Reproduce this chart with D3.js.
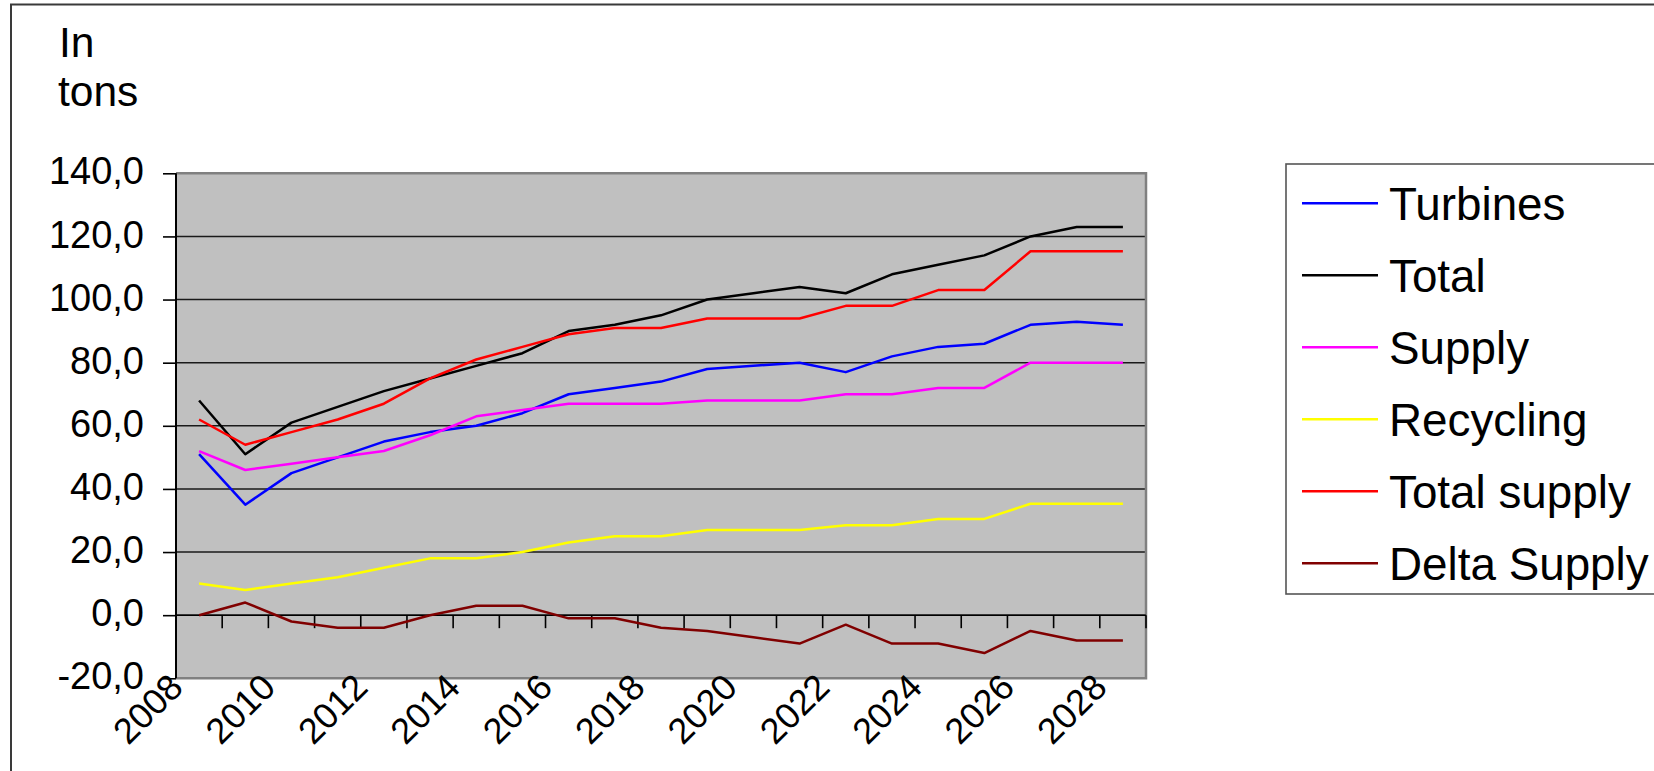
<!DOCTYPE html>
<html>
<head>
<meta charset="utf-8">
<script src="https://cdn.jsdelivr.net/npm/d3@7"></script>
<style>
  html, body { margin: 0; padding: 0; background: #ffffff; overflow: hidden; }
  text { font-family: "Liberation Sans", Arial, sans-serif; fill: #000; }
</style>
</head>
<body>
<svg id="chart" width="1654" height="771"></svg>
<script>
// Categories (one per year) and the years that carry an axis label
const years = ["2008","2009","2010","2011","2012","2013","2014","2015","2016","2017","2018",
               "2019","2020","2021","2022","2023","2024","2025","2026","2027","2028"];
const labelYears = ["2008","2010","2012","2014","2016","2018","2020","2022","2024","2026","2028"];
const yTicks = [-20, 0, 20, 40, 60, 80, 100, 120, 140];

// Series values, in tons
const turbines     = [51, 35, 45, 50, 55, 58, 60, 64, 70, 72, 74, 78, 79, 80, 77, 82, 85, 86, 92, 93, 92];
const total        = [68, 51, 61, 66, 71, 75, 79, 83, 90, 92, 95, 100, 102, 104, 102, 108, 111, 114, 120, 123, 123];
const supply       = [52, 46, 48, 50, 52, 57, 63, 65, 67, 67, 67, 68, 68, 68, 70, 70, 72, 72, 80, 80, 80];
const recycling    = [10, 8, 10, 12, 15, 18, 18, 20, 23, 25, 25, 27, 27, 27, 28.5, 28.5, 30.5, 30.5, 35.3, 35.3, 35.3];
const totalSupply  = [62, 54, 58, 62, 67, 75, 81, 85, 89, 91, 91, 94, 94, 94, 98, 98, 103, 103, 115.3, 115.3, 115.3];
const deltaSupply  = [0, 4, -2, -4, -4, 0, 3, 3, -1, -1, -4, -5, -7, -9, -3, -9, -9, -12, -5, -8, -8];

const seriesNames  = ["Turbines", "Total", "Supply", "Recycling", "Total supply", "Delta Supply"];
const seriesValues = [turbines, total, supply, recycling, totalSupply, deltaSupply];
const seriesColors = ["#0000ff", "#000000", "#ff00ff", "#ffff00", "#ff0000", "#800000"];

const svg = d3.select("#chart");

// Outer chart frame
svg.append("rect")
  .attr("x", 11).attr("y", 4.5).attr("width", 1700).attr("height", 800)
  .attr("fill", "#ffffff").attr("stroke", "#3a3a3a").attr("stroke-width", 2);

// Unit caption
svg.append("text").attr("x", 59).attr("y", 56.5).attr("font-size", 42.5).text("In");
svg.append("text").attr("x", 58).attr("y", 106).attr("font-size", 42.5).text("tons");

const plot = { left: 176, top: 173.3, right: 1146, bottom: 678.3 };

const x = d3.scaleBand().domain(years).range([plot.left, plot.right]).paddingInner(0).paddingOuter(0);
const y = d3.scaleLinear().domain([-20, 140]).range([plot.bottom, plot.top]);

// Plot background
svg.append("rect")
  .attr("x", plot.left).attr("y", plot.top)
  .attr("width", plot.right - plot.left).attr("height", plot.bottom - plot.top)
  .attr("fill", "#c0c0c0");

// Horizontal gridlines
svg.append("g").selectAll("line")
  .data(yTicks.filter(v => v > -20 && v < 140))
  .join("line")
  .attr("x1", plot.left).attr("x2", plot.right)
  .attr("y1", d => y(d)).attr("y2", d => y(d))
  .attr("stroke", "#1a1a1a").attr("stroke-width", 1.6);

// Plot border (top, right, bottom)
svg.append("path")
  .attr("d", `M${plot.left},${plot.top}H${plot.right}V${plot.bottom}H${plot.left}`)
  .attr("fill", "none").attr("stroke", "#808080").attr("stroke-width", 2.5);

// Value axis
const yAxis = d3.axisLeft(y)
  .tickValues(yTicks)
  .tickSize(13)
  .tickPadding(19)
  .tickFormat(d => d.toFixed(1).replace(".", ","));
const gy = svg.append("g").attr("transform", `translate(${plot.left},0)`).call(yAxis);
gy.select(".domain").remove();
gy.selectAll(".tick line").attr("stroke", "#000").attr("stroke-width", 1.6);
gy.selectAll(".tick text")
  .attr("font-size", 38)
  .attr("font-family", "Liberation Sans, Arial, sans-serif")
  .attr("fill", "#000")
  .attr("dy", "0.28em");
svg.append("line")
  .attr("x1", plot.left).attr("x2", plot.left)
  .attr("y1", plot.top).attr("y2", plot.bottom)
  .attr("stroke", "#000").attr("stroke-width", 2);

// Category axis on the zero line, ticks between categories
const y0 = y(0);
svg.append("line")
  .attr("x1", plot.left).attr("x2", plot.right)
  .attr("y1", y0).attr("y2", y0)
  .attr("stroke", "#000").attr("stroke-width", 1.6);
const boundaries = years.map(d => x(d)).concat([x(years[years.length - 1]) + x.bandwidth()]);
svg.append("g").selectAll("line")
  .data(boundaries)
  .join("line")
  .attr("x1", d => d).attr("x2", d => d)
  .attr("y1", y0).attr("y2", y0 + 13)
  .attr("stroke", "#000").attr("stroke-width", 1.6);

// Rotated year labels
svg.append("g").selectAll("text")
  .data(labelYears)
  .join("text")
  .attr("font-size", 36)
  .attr("text-anchor", "end")
  .attr("transform", d => `translate(${x(d) + 9},${plot.bottom + 11}) rotate(-45)`)
  .text(d => d);

// Series lines
const line = d3.line()
  .x((d, i) => x(years[i]) + x.bandwidth() / 2)
  .y(d => y(d));

svg.append("g").selectAll("path")
  .data(seriesValues)
  .join("path")
  .attr("d", d => line(d))
  .attr("fill", "none")
  .attr("stroke", (d, i) => seriesColors[i])
  .attr("stroke-width", 2.5)
  .attr("stroke-linejoin", "round");

// Legend
const legend = { x: 1286, y: 164, w: 500, h: 430, first: 203.3, step: 72 };
svg.append("rect")
  .attr("x", legend.x).attr("y", legend.y).attr("width", legend.w).attr("height", legend.h)
  .attr("fill", "#ffffff").attr("stroke", "#555555").attr("stroke-width", 1.6);
const items = svg.append("g").selectAll("g")
  .data(seriesNames)
  .join("g")
  .attr("transform", (d, i) => `translate(0,${legend.first + i * legend.step})`);
items.append("line")
  .attr("x1", 1302).attr("x2", 1378)
  .attr("y1", 0).attr("y2", 0)
  .attr("stroke", (d, i) => seriesColors[i])
  .attr("stroke-width", 2.5);
items.append("text")
  .attr("x", 1389).attr("y", 16.5)
  .attr("font-size", 45.8)
  .text(d => d);
</script>
</body>
</html>
